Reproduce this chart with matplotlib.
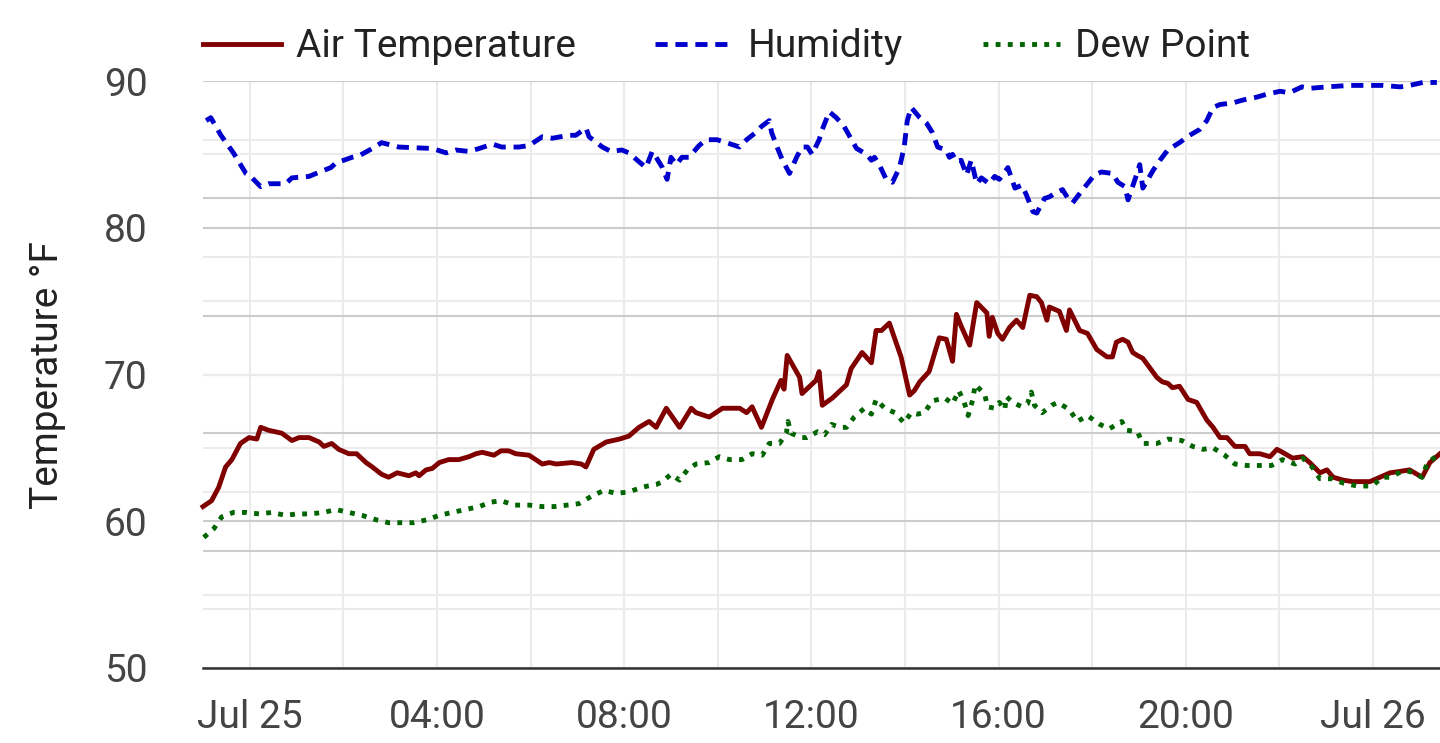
import matplotlib
matplotlib.use("Agg")
import matplotlib.pyplot as plt
import matplotlib.dates as mdates
from matplotlib.ticker import FixedLocator, FuncFormatter
import pandas as pd

plt.rcParams['font.family'] = ['Roboto', 'DejaVu Sans']

# ---- data (minutes relative to Jul 25 00:00) ----
temp_min = [-60, -49, -40, -31, -23, -12, -1, 9, 14, 24, 41, 54, 63, 76, 89, 95, 105, 114, 127, 137,
            149, 157, 169, 178, 189, 204, 213, 217, 226, 234, 243, 255, 268, 281, 290, 298, 313, 322, 332, 341,
            358, 375, 384, 393, 413, 425, 431, 441, 457, 474, 486, 499, 512, 521, 534, 551, 566, 572, 589, 606,
            628, 637, 644, 656, 670, 681, 685, 689, 705, 708, 726, 730, 734, 747, 765, 771, 785, 797, 803, 810,
            820, 835, 846, 852, 859, 871, 884, 893, 901, 906, 912, 923, 932, 945, 948, 952, 959, 965, 974, 983,
            991, 1000, 1009, 1015, 1022, 1025, 1038, 1047, 1051, 1064, 1074, 1086, 1099, 1106, 1111, 1119, 1126,
            1132, 1138, 1145, 1163, 1170, 1177, 1183, 1192, 1203, 1214, 1227, 1235, 1244, 1253, 1263, 1276, 1282,
            1295, 1308, 1317, 1324, 1337, 1350, 1359, 1372, 1381, 1389, 1402, 1414, 1436, 1449, 1462, 1475, 1487,
            1503, 1513, 1526]
temp_val = [61.0, 61.4, 62.3, 63.7, 64.2, 65.3, 65.7, 65.6, 66.4, 66.2, 66.0, 65.5, 65.7, 65.7, 65.4, 65.1, 65.3, 64.9, 64.6, 64.6,
            64.0, 63.7, 63.2, 63.0, 63.3, 63.1, 63.3, 63.1, 63.5, 63.6, 64.0, 64.2, 64.2, 64.4, 64.6, 64.7, 64.5, 64.8, 64.8, 64.6,
            64.5, 63.9, 64.0, 63.9, 64.0, 63.9, 63.7, 64.9, 65.4, 65.6, 65.8, 66.4, 66.8, 66.4, 67.7, 66.4, 67.7, 67.4, 67.1, 67.7,
            67.7, 67.4, 67.8, 66.4, 68.3, 69.6, 69.0, 71.3, 69.8, 68.7, 69.6, 70.2, 67.9, 68.4, 69.3, 70.4, 71.5, 70.8, 73.0, 73.0,
            73.5, 71.2, 68.6, 68.9, 69.5, 70.2, 72.5, 72.4, 70.9, 74.1, 73.3, 72.0, 74.9, 74.2, 72.6, 73.9, 72.8, 72.4, 73.2, 73.7,
            73.2, 75.4, 75.3, 74.9, 73.7, 74.6, 74.3, 73.0, 74.4, 73.0, 72.8, 71.7, 71.2, 71.2, 72.2, 72.4, 72.2,
            71.5, 71.3, 71.1, 69.8, 69.5, 69.4, 69.1, 69.2, 68.3, 68.1, 66.9, 66.4, 65.7, 65.7, 65.1, 65.1, 64.6,
            64.6, 64.4, 64.9, 64.7, 64.3, 64.4, 64.0, 63.3, 63.5, 63.0, 62.8, 62.7, 62.7, 63.0, 63.3, 63.4, 63.5,
            63.0, 64.0, 64.6]

hum_min = [-56, -50, -37, -21, -5, 1, 14, 24, 46, 54, 76, 85, 104, 110, 131, 140, 157, 169, 191, 234,
           252, 264, 281, 294, 311, 323, 345, 358, 375, 388, 409, 418, 431, 435, 452, 463, 477, 486, 499, 508,
           516, 521, 529, 535, 540, 547, 554, 563, 576, 585, 599, 611, 628, 637, 649, 656, 666, 669, 676, 683,
           692, 701, 708, 715, 721, 730, 734, 743, 752, 762, 778, 791, 797, 801, 807, 816, 824, 833, 839, 843,
           848, 859, 868, 875, 882, 893, 897, 901, 906, 912, 919, 925, 932, 938, 948, 955, 961, 972, 981, 990,
           996, 1004, 1009, 1019, 1025, 1034, 1042, 1049, 1055, 1068, 1083, 1092, 1106, 1113, 1122, 1126, 1135,
           1141, 1145, 1158, 1167, 1177, 1192, 1205, 1218, 1227, 1235, 1244, 1260, 1273, 1291, 1304, 1321, 1333,
           1349, 1359, 1381, 1410, 1440, 1452, 1475, 1487, 1504, 1522]
hum_val = [87.3, 87.5, 86.3, 85.1, 83.7, 83.5, 82.8, 83.0, 83.0, 83.4, 83.5, 83.7, 84.1, 84.4, 84.8, 84.9, 85.4, 85.8, 85.5, 85.4,
           85.1, 85.3, 85.2, 85.4, 85.7, 85.5, 85.5, 85.6, 86.2, 86.1, 86.3, 86.3, 86.8, 86.2, 85.5, 85.2, 85.3, 85.1, 84.5, 84.1,
           85.2, 84.8, 84.1, 83.3, 84.8, 84.3, 84.8, 84.8, 85.6, 86.0, 86.0, 85.8, 85.5, 86.0, 86.5, 86.9, 87.3, 86.5, 85.5, 84.6,
           83.7, 84.8, 85.5, 85.5, 85.0, 86.0, 86.7, 87.9, 87.5, 86.9, 85.4, 85.0, 84.6, 84.8, 84.3, 83.3, 83.1, 84.1, 85.5, 87.3,
           88.2, 87.5, 87.1, 86.5, 85.5, 85.3, 84.8, 85.0, 84.5, 84.6, 83.6, 84.6, 83.0, 83.4, 83.0, 83.5, 83.3, 84.1, 82.7, 82.9,
           82.2, 81.1, 81.0, 82.0, 82.1, 82.4, 82.6, 82.0, 81.7, 82.6, 83.6, 83.8, 83.7, 83.1, 82.8, 81.9, 83.3,
           84.3, 82.7, 83.9, 84.6, 85.3, 85.8, 86.3, 86.7, 87.3, 88.2, 88.4, 88.5, 88.7, 88.9, 89.1, 89.3, 89.2,
           89.6, 89.5, 89.6, 89.7, 89.7, 89.7, 89.6, 89.7, 89.9, 89.9]

dew_min = [-59, -46, -36, -21, -4, 12, 28, 46, 60, 76, 95, 110, 127, 144, 162, 178, 194, 210, 227, 243,
           259, 277, 294, 309, 322, 339, 358, 375, 390, 407, 422, 438, 454, 470, 486, 502, 510, 521, 529, 540,
           551, 561, 572, 589, 602, 615, 631, 644, 657, 666, 679, 688, 690, 694, 707, 714, 728, 737, 746, 756,
           765, 775, 788, 797, 803, 814, 827, 839, 848, 856, 865, 875, 891, 901, 909, 916, 921, 927, 930, 942,
           946, 955, 961, 968, 970, 978, 990, 997, 1002, 1006, 1016, 1028, 1036, 1051, 1061, 1074, 1090, 1102,
           1118, 1124, 1138, 1145, 1163, 1177, 1195, 1209, 1222, 1235, 1250, 1263, 1278, 1295, 1310, 1324, 1340,
           1350, 1362, 1372, 1387, 1402, 1420, 1439, 1452, 1462, 1477, 1487, 1503, 1510, 1526]
dew_val = [58.9, 59.5, 60.3, 60.6, 60.6, 60.5, 60.6, 60.4, 60.5, 60.5, 60.6, 60.8, 60.6, 60.4, 60.1, 59.9, 59.9, 59.9, 60.1, 60.4,
           60.6, 60.8, 61.0, 61.3, 61.4, 61.1, 61.1, 61.0, 61.0, 61.1, 61.2, 61.7, 62.1, 61.9, 62.0, 62.3, 62.4, 62.5, 62.7, 63.2,
           62.8, 63.5, 63.9, 64.0, 64.4, 64.2, 64.2, 64.6, 64.5, 65.3, 65.3, 66.0, 66.8, 66.0, 65.7, 65.7, 66.1, 65.9, 66.6, 66.4,
           66.4, 67.1, 67.7, 67.3, 68.3, 67.7, 67.4, 66.7, 67.4, 67.3, 67.4, 68.2, 68.4, 68.0, 68.9, 68.1, 67.2, 68.3, 69.3, 68.7,
           67.8, 67.7, 68.1, 67.6, 68.5, 68.1, 67.8, 68.0, 68.8, 67.9, 67.4, 67.9, 68.1, 67.6, 66.8, 67.2, 66.6, 66.3,
           66.8, 66.2, 66.1, 65.3, 65.3, 65.6, 65.5, 65.1, 64.9, 65.0, 64.5, 63.9, 63.8, 63.8, 63.8, 64.2, 63.9,
           64.3, 63.7, 62.9, 62.9, 62.6, 62.4, 62.4, 63.0, 63.0, 63.4, 63.4, 63.0, 64.0, 64.6]

y_ticks = [50, 60, 70, 80, 90]
series_names = ["Air Temperature", "Humidity", "Dew Point"]

base = pd.Timestamp("2024-07-25 00:00")
def to_time(mins):
    return [base + pd.Timedelta(minutes=m) for m in mins]

t_temp = to_time(temp_min)
t_hum = to_time(hum_min)
t_dew = to_time(dew_min)

W, H = 1440, 743
fig = plt.figure(figsize=(W / 100, H / 100), dpi=100)
ax = fig.add_axes([203 / W, 75 / H, 1237 / W, 587 / H])

DARK = '#cccccc'
LIGHT = '#ebebeb'
GLW = 1.5

# primary axis: ticks, labels, grids
ax.set_ylim(50, 90)
ax.set_xlim(base - pd.Timedelta(minutes=60), base + pd.Timedelta(minutes=1526))
ax.yaxis.set_major_locator(FixedLocator(y_ticks))
ax.yaxis.set_minor_locator(FixedLocator([55, 65, 75, 85]))
ax.xaxis.set_major_locator(mdates.HourLocator(byhour=range(0, 24, 4)))
ax.xaxis.set_minor_locator(mdates.HourLocator(byhour=range(0, 24, 2)))

def xfmt(x, pos):
    d = mdates.num2date(x)
    if d.hour == 0 and d.minute == 0:
        return d.strftime("%b ") + str(d.day)
    return d.strftime("%H:%M")
ax.xaxis.set_major_formatter(FuncFormatter(xfmt))

ax.yaxis.grid(True, which='major', color=DARK, lw=GLW)
ax.yaxis.grid(True, which='minor', color=LIGHT, lw=GLW)
ax.xaxis.grid(True, which='both', color=LIGHT, lw=GLW)
ax.set_axisbelow(True)
ax.tick_params(which='both', length=0)
ax.tick_params(axis='y', labelsize=28, labelcolor='#444444', pad=40)
ax.tick_params(axis='x', labelsize=28, labelcolor='#444444', pad=22)
for s in ax.spines.values():
    s.set_visible(False)

# secondary (humidity) axis grid
ax2 = ax.twinx()
ax2.set_ylim(0, 100)
ax2.yaxis.set_major_locator(FixedLocator([20, 40, 60, 80, 100]))
ax2.yaxis.set_minor_locator(FixedLocator([10, 30, 50, 70, 90]))
ax2.yaxis.grid(True, which='major', color=DARK, lw=GLW)
ax2.yaxis.grid(True, which='minor', color=LIGHT, lw=GLW)
ax2.tick_params(which='both', length=0, labelright=False, right=False)
ax2.patch.set_visible(False)
for s in ax2.spines.values():
    s.set_visible(False)

# data axes on top
axd = ax.twinx()
axd.set_ylim(50, 90)
axd.tick_params(which='both', length=0, labelright=False, right=False)
axd.patch.set_visible(False)
for s in axd.spines.values():
    s.set_visible(False)
axd.spines['bottom'].set_visible(True)
axd.spines['bottom'].set_color('#333333')
axd.spines['bottom'].set_linewidth(1.8)

LW = 3.5
l1, = axd.plot(t_temp, temp_val, color='#800000', lw=LW, solid_joinstyle='round', label=series_names[0], clip_on=False)
l2, = axd.plot(t_hum, hum_val, color='#0000cd', lw=LW, linestyle=(0, (2.5, 1.6)), label=series_names[1], clip_on=False)
l3, = axd.plot(t_dew, dew_val, color='#006400', lw=LW, linestyle=(0, (1, 1.5)), label=series_names[2], clip_on=False)

leg = axd.legend(handles=[l1, l2, l3], loc='lower left', bbox_to_anchor=(0, 1.027),
                 ncol=3, frameon=False, fontsize=28, handlelength=2.0, handletextpad=0.38,
                 columnspacing=2.05, borderaxespad=0, borderpad=0)
for t in leg.get_texts():
    t.set_color('#222222')

fig.text(47 / W, 1 - 375 / H, "Temperature °F", rotation=90, ha='center', va='center',
         fontsize=28, color='#222222')

fig.savefig("out.png", dpi=100)
